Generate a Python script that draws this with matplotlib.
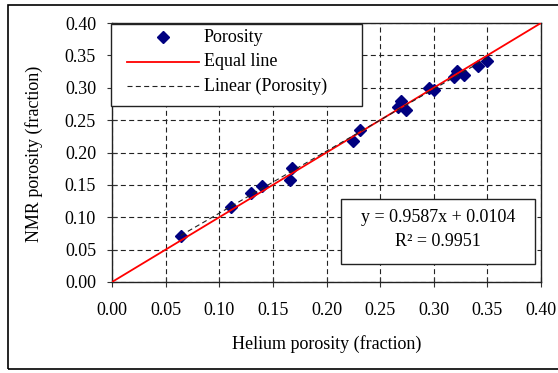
import matplotlib
matplotlib.use("Agg")
import matplotlib.pyplot as plt
from matplotlib.patches import Rectangle
from matplotlib.lines import Line2D
import numpy as np

plt.rcParams['font.family'] = ['Liberation Serif', 'DejaVu Serif']

# Data
helium = [0.064, 0.111, 0.130, 0.140, 0.166, 0.168, 0.225, 0.231, 0.267, 0.269,
          0.274, 0.296, 0.300, 0.319, 0.322, 0.328, 0.341, 0.350]
nmr = [0.071, 0.116, 0.137, 0.148, 0.158, 0.176, 0.218, 0.235, 0.271, 0.280,
       0.266, 0.300, 0.297, 0.316, 0.326, 0.320, 0.334, 0.342]
trend_slope = 0.9587
trend_intercept = 0.0104
r_squared = 0.9951
ticks = [0.00, 0.05, 0.10, 0.15, 0.20, 0.25, 0.30, 0.35, 0.40]
tick_labels = ["0.00", "0.05", "0.10", "0.15", "0.20", "0.25", "0.30", "0.35", "0.40"]
series_labels = ["Porosity", "Equal line", "Linear (Porosity)"]

W, H = 558, 373
AX_L, AX_R, AX_T, AX_B = 112, 541, 23, 282
fig = plt.figure(figsize=(W / 100, H / 100), dpi=100)
ax = fig.add_axes([AX_L / W, 1 - AX_B / H, (AX_R - AX_L) / W, (AX_B - AX_T) / H])


def axx(px):
    return (px - AX_L) / (AX_R - AX_L)


def axy(py):
    return (AX_B - py) / (AX_B - AX_T)


fs = 13
ink = '#222222'
dash = (0, (4.5, 3))
ax.set_xlim(0, 0.4)
ax.set_ylim(0, 0.4)
ax.set_xticks(ticks)
ax.set_yticks(ticks)
ax.set_xticklabels(tick_labels, fontsize=fs)
ax.set_yticklabels(tick_labels, fontsize=fs)
ax.tick_params(direction='inout', length=7, width=0.8, color='#333333')
ax.tick_params(axis='x', pad=11)
ax.tick_params(axis='y', pad=8)
ax.grid(True, color=ink, linestyle=dash, linewidth=0.8)
ax.set_axisbelow(True)
for s in ax.spines.values():
    s.set_color(ink)
    s.set_linewidth(1.0)

marker_style = dict(linestyle='none', marker='D', markersize=5.8,
                    color='#000080', markeredgecolor='#000080', markeredgewidth=1.0)
eq_style = dict(color='red', linewidth=1.3)
tr_style = dict(color=ink, linewidth=0.8, linestyle=dash)

# Series
ax.plot(helium, nmr, zorder=3, **marker_style)
ax.plot([0, 0.4], [0, 0.4], zorder=4, **eq_style)
xt = np.array([min(helium), max(helium)])
ax.plot(xt, trend_slope * xt + trend_intercept, zorder=5, **tr_style)

# Legend box (drawn like the Excel legend)
ax.add_patch(Rectangle((axx(111), axy(106)), axx(362) - axx(111), axy(24) - axy(106),
                       transform=ax.transAxes, facecolor='white', edgecolor=ink,
                       linewidth=1.0, zorder=10, clip_on=False))
rows = [37, 62, 86]
ax.add_line(Line2D([axx(163)], [axy(rows[0])], transform=ax.transAxes, zorder=11,
                   clip_on=False, **marker_style))
ax.add_line(Line2D([axx(127), axx(199)], [axy(rows[1])] * 2, transform=ax.transAxes,
                   zorder=11, clip_on=False, **eq_style))
ax.add_line(Line2D([axx(127), axx(199)], [axy(rows[2])] * 2, transform=ax.transAxes,
                   zorder=11, clip_on=False, **tr_style))
for lab, r in zip(series_labels, rows):
    ax.text(axx(204), axy(r), lab, transform=ax.transAxes, ha='left', va='center',
            fontsize=fs, zorder=12)

# Equation box
ax.add_patch(Rectangle((axx(341), axy(264)), axx(535) - axx(341), axy(199) - axy(264),
                       transform=ax.transAxes, facecolor='white',
                       edgecolor=ink, linewidth=1.0, zorder=8))
cx = axx(438)
ax.text(cx, axy(217), f"y = {trend_slope:.4f}x + {trend_intercept:.4f}",
        transform=ax.transAxes, ha='center', va='center', fontsize=fs, zorder=9)
ax.text(cx, axy(242), f"R² = {r_squared:.4f}",
        transform=ax.transAxes, ha='center', va='center', fontsize=fs, zorder=9)

# Axis titles
fig.text(327 / W, 1 - 344 / H, "Helium porosity (fraction)", ha='center',
         va='center', fontsize=fs)
fig.text(34 / W, 1 - 154 / H, "NMR porosity (fraction)", ha='center',
         va='center', rotation=90, fontsize=fs)

# Outer border
fig.patches.append(Rectangle((8 / W, 1 - 369 / H), (570 - 8) / W, (369 - 5) / H,
                             transform=fig.transFigure, fill=False,
                             edgecolor='black', linewidth=1.2))

fig.savefig("out.png", dpi=100)
